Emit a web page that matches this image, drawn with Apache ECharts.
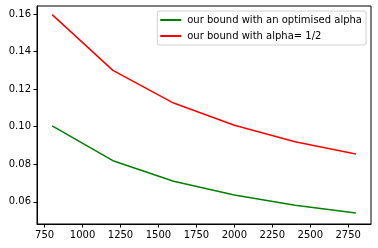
<!DOCTYPE html>
<html>
<head>
<meta charset="utf-8">
<script src="https://cdn.jsdelivr.net/npm/echarts@6/dist/echarts.min.js"></script>
<style>html,body{margin:0;padding:0;background:#fff}#c{width:378px;height:248px}</style>
</head>
<body>
<div id="c"></div>
<script>
var xValues = [800, 1200, 1600, 2000, 2400, 2800];
var optimisedAlpha = [0.1005, 0.0819, 0.0710, 0.0637, 0.0582, 0.0540];
var halfAlpha = [0.1597, 0.1300, 0.1126, 0.1008, 0.0920, 0.0855];
var xTicks = [750, 1000, 1250, 1500, 1750, 2000, 2250, 2500, 2750];
var yTicks = [0.06, 0.08, 0.10, 0.12, 0.14, 0.16];
var seriesNames = ['our bound with an optimised alpha', 'our bound with alpha= 1/2'];

function pairs(ys) { return xValues.map(function (x, i) { return [x, ys[i]]; }); }

var font = 'DejaVu Sans';
var chart = echarts.init(document.getElementById('c'), null, {renderer: 'canvas'});
chart.setOption({
  animation: false,
  grid: {left: 37, right: 7, top: 6, bottom: 24, show: true, borderColor: '#000', borderWidth: 1, backgroundColor: 'transparent'},
  legend: {
    orient: 'vertical', right: 12, top: 11, padding: [4, 4, 4, 3],
    itemWidth: 21, itemHeight: 2, itemGap: 6, icon: 'rect',
    borderColor: '#d0d0d0', borderWidth: 1, borderRadius: 2, backgroundColor: 'rgba(255,255,255,0.8)',
    textStyle: {fontFamily: font, fontSize: 10, color: '#000', padding: [0, 0, 0, 1]},
    data: seriesNames
  },
  xAxis: {
    type: 'value', min: 700, max: 2900,
    splitLine: {show: false},
    axisLine: {show: true, lineStyle: {color: '#000', width: 1}},
    axisTick: {show: true, inside: false, length: 3.5, lineStyle: {color: '#000', width: 1}, customValues: xTicks},
    axisLabel: {fontFamily: font, fontSize: 10, color: '#000', margin: 6, customValues: xTicks, formatter: function (v) { return String(v); }}
  },
  yAxis: {
    type: 'value', min: 0.0482, max: 0.1643,
    splitLine: {show: false},
    axisLine: {show: true, lineStyle: {color: '#000', width: 1}},
    axisTick: {show: true, inside: false, length: 3.5, lineStyle: {color: '#000', width: 1}, customValues: yTicks},
    axisLabel: {fontFamily: font, fontSize: 10, color: '#000', margin: 6, customValues: yTicks, formatter: function (v) { return v.toFixed(2); }}
  },
  series: [
    {name: seriesNames[0], type: 'line', data: pairs(optimisedAlpha), showSymbol: false, symbol: 'none', color: '#008000', lineStyle: {color: '#008000', width: 1.5}},
    {name: seriesNames[1], type: 'line', data: pairs(halfAlpha), showSymbol: false, symbol: 'none', color: '#ff0000', lineStyle: {color: '#ff0000', width: 1.5}}
  ]
});
</script>
</body>
</html>
